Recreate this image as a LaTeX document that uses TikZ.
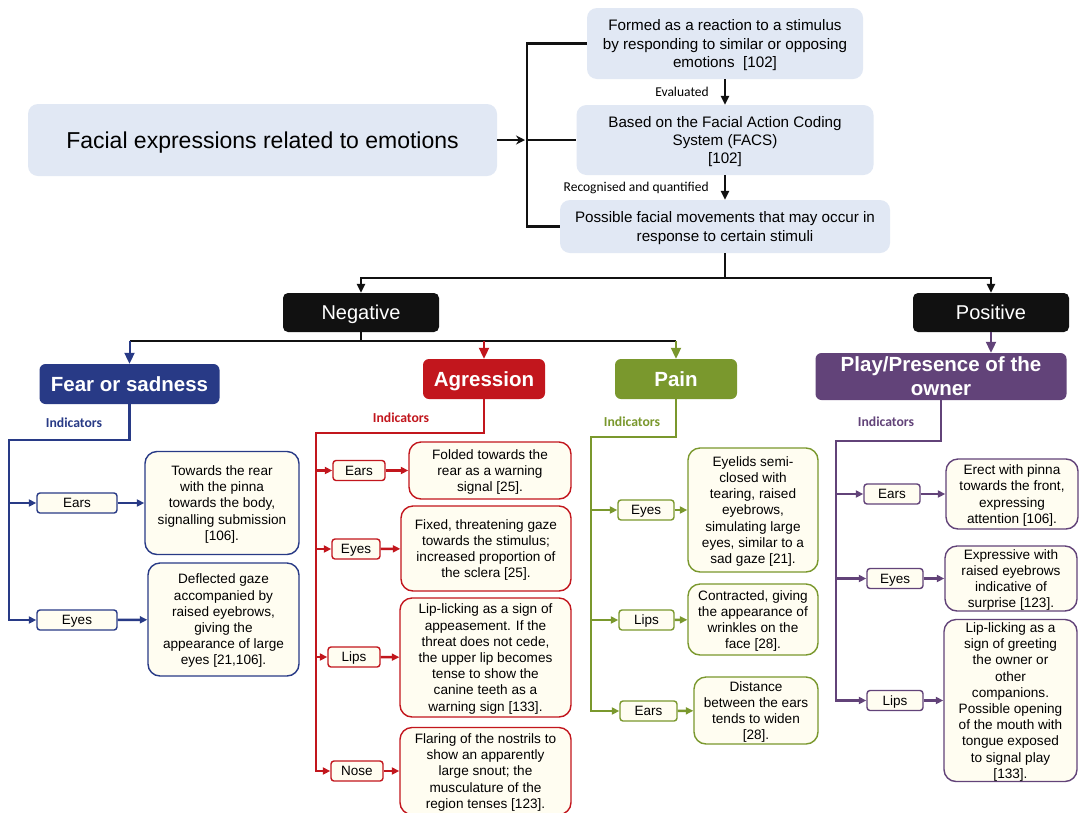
\documentclass[tikz,border=0pt]{standalone}
\usepackage{fontspec}
\setmainfont{Liberation Sans}
\newfontfamily\lblfont{Carlito}
\usepackage{xcolor}
\usepackage{tikz}
\usetikzlibrary{arrows.meta}
\usetikzlibrary{positioning}

\definecolor{boxblue}{HTML}{E1E8F4}
\definecolor{cream}{HTML}{FFFDF1}
\definecolor{nearblack}{HTML}{111111}
\definecolor{fearcol}{HTML}{283A86}
\definecolor{aggcol}{HTML}{C2161D}
\definecolor{paincol}{HTML}{7A982D}
\definecolor{playcol}{HTML}{624379}

\begin{document}
\begin{tikzpicture}[x=1pt, y=-1pt,
  topbox/.style={fill=boxblue, rounded corners=10pt, align=center, inner sep=0pt, text depth=0pt, font=\fontsize{15.2}{18.3}\selectfont},
  darkbox/.style={fill=nearblack, rounded corners=5pt, text=white, inner sep=0pt, text depth=0pt, minimum width=156pt, minimum height=39pt, font=\fontsize{20}{24}\selectfont},
  headbox/.style={fill=#1, rounded corners=6pt, text=white, align=center, inner sep=0pt, text depth=0pt, minimum height=40pt, font=\bfseries\fontsize{20.5}{24}\selectfont},
  signbox/.style={draw=#1, fill=cream, rounded corners=3pt, line width=1.4pt, inner sep=0pt, text depth=0pt, minimum height=20pt, font=\fontsize{13.5}{16}\selectfont},
  descbox/.style={draw=#1, fill=cream, rounded corners=12pt, line width=1.4pt, align=center, inner sep=0pt, text depth=0pt, font=\fontsize{13.6}{16.2}\selectfont},
  indic/.style={text=#1, inner sep=0pt, font=\lblfont\bfseries\fontsize{13.7}{15}\selectfont},
  steplbl/.style={inner sep=0pt, font=\lblfont\fontsize{13.5}{15}\selectfont},
  blackln/.style={draw=nearblack, line width=2.6pt},
  colln/.style={draw=#1, line width=2.5pt},
  arr/.style={-{Triangle[length=9pt,width=8pt]}},
  bigarr/.style={line width=2pt, -{Triangle[length=11pt,width=10pt]}},
  smallarr/.style={-{Triangle[length=7.5pt,width=7pt]}},
]
\useasboundingbox[fill=white] (0,0) rectangle (1079,812);

% top part
\node[topbox, minimum width=469pt, minimum height=72pt, font=\fontsize{23}{27}\selectfont] (main) at (262.5,140) {Facial expressions related to emotions};
\node[topbox, minimum width=276pt, minimum height=71pt] (formed) at (725,43.5) {Formed as a reaction to a stimulus\\by responding to similar or opposing\\emotions~~[102]};
\node[topbox, minimum width=297pt, minimum height=70pt] (facs) at (725,140) {Based on the Facial Action Coding\\System (FACS)\\{}[102]};
\node[topbox, minimum width=330pt, minimum height=53pt] (moves) at (725,226.5) {Possible facial movements that may occur in\\response to certain stimuli};

\coordinate (brace) at (527,140);
\draw[blackln, -{Stealth[length=9pt,width=9pt]}, shorten >=2pt] (main.east) -- (brace);
\draw[blackln] (formed.west) -| (brace |- moves.west) -- (moves.west);
\draw[blackln] (brace) -- (facs.west);
\draw[blackln, arr] (formed) -- node[left=15pt, steplbl] {Evaluated} (facs);
\draw[blackln, arr] (facs) -- node[left=15pt, steplbl] {Recognised and quantified} (moves);

% negative / positive
\node[darkbox] (neg) at (361,312.5) {Negative};
\node[darkbox] (pos) at (991,312.5) {Positive};
\coordinate (topJ) at (725,278);
\draw[blackln] (moves.south) -- (topJ);
\draw[blackln, arr] (topJ) -| (neg.north);
\draw[blackln, arr] (topJ) -| (pos.north);

% categories
\node[headbox=fearcol, minimum width=180pt] (fear) at (129.5,384) {Fear or sadness};
\node[headbox=aggcol, minimum width=122pt] (agg) at (484,379) {Agression};
\node[headbox=paincol, minimum width=122pt] (pain) at (676,379) {Pain};
\node[headbox=playcol, minimum width=251pt, minimum height=47pt] (play) at (941,376.5) {Play/Presence of the\\owner};

\coordinate (negJ) at (361,341);
\draw[blackln] (neg.south) -- (negJ);
\draw[blackln] (negJ -| fear.north) -- (negJ -| pain.north);
\draw[draw=fearcol, bigarr] (negJ -| fear.north) -- (fear.north);
\draw[draw=aggcol, bigarr] (negJ -| agg.north) -- (agg.north);
\draw[draw=paincol, bigarr] (negJ -| pain.north) -- (pain.north);
\draw[draw=playcol, bigarr] (pos.south) -- (pos.south |- play.north);

\node[indic=fearcol] at (74,423) {Indicators};
\node[indic=aggcol] at (401,418) {Indicators};
\node[indic=paincol] at (632,422) {Indicators};
\node[indic=playcol] at (886,422) {Indicators};

% fear or sadness
\node[signbox=fearcol, minimum width=80pt] (fearEars) at (77,503) {Ears};
\node[descbox=fearcol, minimum width=154pt, minimum height=103pt] (fearEarsD) at (222,503) {Towards the rear\\with the pinna\\towards the body,\\signalling submission\\{}[106].};
\node[signbox=fearcol, minimum width=80pt] (fearEyes) at (77,620) {Eyes};
\node[descbox=fearcol, minimum width=151pt, minimum height=113pt] (fearEyesD) at (223.5,619.5) {Deflected gaze\\accompanied by\\raised eyebrows,\\giving the\\appearance of large\\eyes [21,106].};
\coordinate (fearK) at (9,440);
\draw[colln=fearcol, smallarr] (fear.south) |- (fearK) |- (fearEyes.west);
\draw[colln=fearcol, smallarr] (fearK |- fearEars) -- (fearEars);
\draw[colln=fearcol, smallarr] (fearEars) -- (fearEarsD);
\draw[colln=fearcol, smallarr] (fearEyes) -- (fearEyesD);

% agression
\node[signbox=aggcol, minimum width=52pt] (aggEars) at (359,470.5) {Ears};
\node[descbox=aggcol, minimum width=162pt, minimum height=57pt] (aggEarsD) at (490,470.5) {Folded towards the\\rear as a warning\\signal [25].};
\node[signbox=aggcol, minimum width=48pt] (aggEyes) at (356,549) {Eyes};
\node[descbox=aggcol, minimum width=170pt, minimum height=85pt] (aggEyesD) at (486,548.5) {Fixed, threatening gaze\\towards the stimulus;\\increased proportion of\\the sclera [25].};
\node[signbox=aggcol, minimum width=52pt] (aggLips) at (354,657) {Lips};
\node[descbox=aggcol, minimum width=171pt, minimum height=119pt] (aggLipsD) at (485.5,657.5) {Lip-licking as a sign of\\appeasement. If the\\threat does not cede,\\the upper lip becomes\\tense to show the\\canine teeth as a\\warning sign [133].};
\node[signbox=aggcol, minimum width=52pt] (aggNose) at (357,771) {Nose};
\node[descbox=aggcol, minimum width=171pt, minimum height=87pt] (aggNoseD) at (485.5,771) {Flaring of the nostrils to\\show an apparently\\large snout; the\\musculature of the\\region tenses [123].};
\coordinate (aggK) at (316,433);
\draw[colln=aggcol, smallarr] (agg.south) |- (aggK) |- (aggNose.west);
\foreach \part in {Ears, Eyes, Lips}
  \draw[colln=aggcol, smallarr] (aggK |- agg\part) -- (agg\part);
\foreach \part in {Ears, Eyes, Lips, Nose}
  \draw[colln=aggcol, smallarr] (agg\part) -- (agg\part D);

% pain
\node[signbox=paincol, minimum width=56pt] (painEyes) at (646,510) {Eyes};
\node[descbox=paincol, minimum width=130pt, minimum height=124pt] (painEyesD) at (753,510) {Eyelids semi-\\closed with\\tearing, raised\\eyebrows,\\simulating large\\eyes, similar to a\\sad gaze [21].};
\node[signbox=paincol, minimum width=55pt] (painLips) at (646.5,620) {Lips};
\node[descbox=paincol, minimum width=130pt, minimum height=71pt] (painLipsD) at (753,619.5) {Contracted, giving\\the appearance of\\wrinkles on the\\face [28].};
\node[signbox=paincol, minimum width=57pt] (painEars) at (648.5,711) {Ears};
\node[descbox=paincol, minimum width=124pt, minimum height=67pt] (painEarsD) at (756,710.5) {Distance\\between the ears\\tends to widen\\{}[28].};
\coordinate (painK) at (591,437);
\draw[colln=paincol, smallarr] (pain.south) |- (painK) |- (painEars.west);
\foreach \part in {Eyes, Lips}
  \draw[colln=paincol, smallarr] (painK |- pain\part) -- (pain\part);
\foreach \part in {Eyes, Lips, Ears}
  \draw[colln=paincol, smallarr] (pain\part) -- (pain\part D);

% play / presence of the owner
\node[signbox=playcol, minimum width=56pt] (playEars) at (892,494) {Ears};
\node[descbox=playcol, minimum width=132pt, minimum height=70pt] (playEarsD) at (1012,494) {Erect with pinna\\towards the front,\\expressing\\attention [106].};
\node[signbox=playcol, minimum width=56pt] (playEyes) at (895,578.5) {Eyes};
\node[descbox=playcol, minimum width=132pt, minimum height=65pt] (playEyesD) at (1011,578.5) {Expressive with\\raised eyebrows\\indicative of\\surprise [123].};
\node[signbox=playcol, minimum width=56pt] (playLips) at (895,700.5) {Lips};
\node[descbox=playcol, minimum width=133pt, minimum height=162pt] (playLipsD) at (1010.5,700.5) {Lip-licking as a\\sign of greeting\\the owner or\\other\\companions.\\Possible opening\\of the mouth with\\tongue exposed\\to signal play\\{}[133].};
\coordinate (playK) at (836,441);
\draw[colln=playcol, smallarr] (play.south) |- (playK) |- (playLips.west);
\foreach \part in {Ears, Eyes}
  \draw[colln=playcol, smallarr] (playK |- play\part) -- (play\part);
\foreach \part in {Ears, Eyes, Lips}
  \draw[colln=playcol, smallarr] (play\part) -- (play\part D);

\end{tikzpicture}
\end{document}
